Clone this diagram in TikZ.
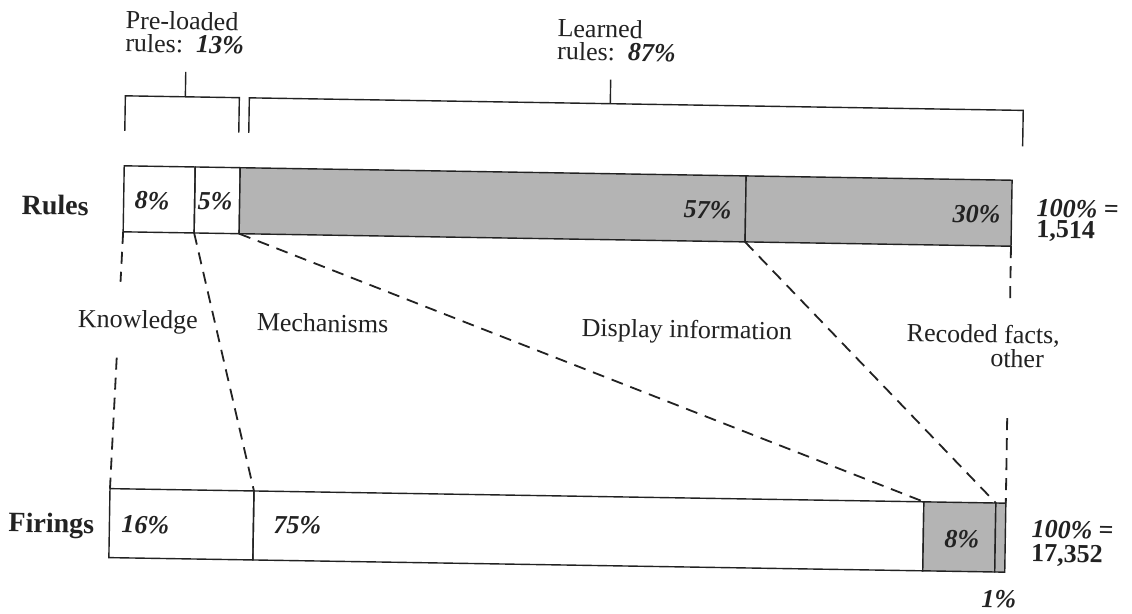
\documentclass[tikz,border=0pt]{standalone}
\usepackage{fontspec}
\setmainfont{Liberation Serif}
\usetikzlibrary{calc}
\definecolor{barfill}{RGB}{180,180,180}
\definecolor{ink}{RGB}{34,34,34}
\begin{document}
\begin{tikzpicture}[x=1pt,y=-1pt,
  cell/.style={draw=ink, line width=1.4pt, inner sep=0pt, outer sep=0pt, anchor=north west, transform shape},
  gcell/.style={cell, fill=barfill},
  txt/.style={font=\fontsize{26}{23}\selectfont, text=ink, inner sep=0pt, anchor=base west, align=left, transform shape},
  pct/.style={font=\fontsize{26}{24}\selectfont\bfseries\itshape, text=ink, inner sep=0pt, anchor=base west, transform shape},
  big/.style={font=\fontsize{28}{28}\selectfont\bfseries, text=ink, inner sep=0pt, anchor=base west, transform shape},
  tot/.style={text=ink, inner sep=0pt, anchor=base west, align=left, transform shape},
  brk/.style={line width=1.4pt, draw=ink},
  dsh/.style={line width=1.8pt, draw=ink, dash pattern=on 12pt off 8pt}]
\useasboundingbox (0,0) rectangle (1132,613);
\fill[white] (0,0) rectangle (1132,613);
\begin{scope}[rotate around={-0.93:(566,306)}]
  % Rules bar
  \node[cell,  minimum width=71pt,  minimum height=66pt] (r1) at (122,173) {};
  \node[cell,  minimum width=45pt,  minimum height=66pt] (r2) at (193,173) {};
  \node[gcell, minimum width=506pt, minimum height=66pt] (r3) at (238,173) {};
  \node[gcell, minimum width=266pt, minimum height=66pt] (r4) at (744,173) {};
  % Firings bar
  \node[cell,  minimum width=144pt, minimum height=69pt] (f1) at (113,496) {};
  \node[cell,  minimum width=670pt, minimum height=69pt] (f2) at (257,496) {};
  \node[gcell, minimum width=72pt,  minimum height=69pt] (f3) at (927,496) {};
  \node[gcell, minimum width=10pt,  minimum height=69pt] (f4) at (999,496) {};

  % brackets
  \draw[brk] (122,138) -- (122,103) -- (236,103) -- (236,138);
  \draw[brk] (182,103) -- (182,78);
  \draw[brk] (246,138) -- (246,103) -- (1020,103) -- (1020,139);
  \draw[brk] (607,103) -- (607,79);

  % top labels (base anchor = last line)
  \node[txt] (pre) at (121,59) {Pre-loaded\\rules:\ \ \textbf{\textit{13\%}}};
  \node[txt] (lrn) at (553,60) {Learned\\rules:\ \ \textbf{\textit{87\%}}};

  % row labels
  \node[big] (rules) at (20,223) {Rules};
  \node[big] (fir) at (12,541) {Firings};

  % percentages
  \node[pct] (p8) at (133,216) {8\%};
  \node[pct] (p5) at (196,215) {5\%};
  \node[pct, anchor=base east] (p57) at (730,216) {57\%};
  \node[pct, anchor=base east] (p30) at (999,216) {30\%};
  \node[pct] (p16) at (125,540) {16\%};
  \node[pct] (p75) at (277,538) {75\%};
  \node[pct] (pf8) at (948,541) {8\%};
  \node[pct] (p1) at (986,601) {1\%};

  % totals
  \node[tot, font=\fontsize{26}{21}\selectfont] (tr) at (1035,230) {\textbf{\textit{100\%}} \textbf{=}\\\textbf{1,514}};
  \node[tot, font=\fontsize{26}{24}\selectfont] (tf) at (1035,554) {\textbf{\textit{100\%}} \textbf{=}\\\textbf{17,352}};

  % category labels
  \node[txt] (know) at (78,335) {Knowledge};
  \node[txt] (mech) at (257,336) {Mechanisms};
  \node[txt] (disp) at (582,336) {Display information};
  \node[txt, font=\fontsize{26}{24}\selectfont] (rec) at (907,360) {Recoded facts,\\\hspace*{84pt}other};

  % dashed connectors
  \coordinate (k1) at (120.2,289);
  \coordinate (k2) at (117.6,365);
  \coordinate (c1) at (1010,291);
  \coordinate (c2) at (1009,411);
  \draw[dsh] (r1.south west) -- (k1);
  \draw[dsh] (k2) -- (f1.north west);
  \draw[dsh] (r2.south west) -- (f2.north west);
  \draw[dsh] (r3.south west) -- (f3.north west);
  \draw[dsh] (r4.south west) -- (f4.north west);
  \draw[dsh] (r4.south east) -- (c1);
  \draw[dsh] (c2) -- (f4.north east);
\end{scope}
\end{tikzpicture}
\end{document}
